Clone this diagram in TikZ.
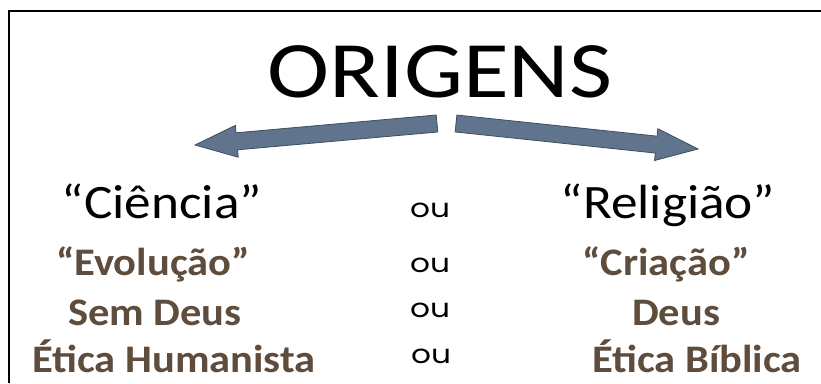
\documentclass[tikz,border=0pt]{standalone}
\usepackage{fontspec}
\setmainfont{Carlito}
\newfontfamily\oufont{Poppins}
\definecolor{brn}{RGB}{94,76,60}
\definecolor{arrfill}{RGB}{96,116,142}
\definecolor{arrline}{RGB}{62,78,96}
\newcommand{\stretchx}[2]{\scalebox{#1}[1]{#2}}
\begin{document}
\begin{tikzpicture}[x=1pt,y=-1pt,
  txt/.style={anchor=base,inner sep=0pt},
  big/.style={txt,font=\fontsize{80}{82}\selectfont},
  mid/.style={txt,font=\fontsize{48}{50}\selectfont},
  sub/.style={txt,font=\fontsize{39}{42}\selectfont\bfseries,text=brn},
  oustyle/.style={txt,font=\oufont\fontsize{26}{28}\selectfont},
  arr/.style={fill=arrfill,draw=arrline,line width=0.8pt,line join=miter}]
\useasboundingbox (0,0) rectangle (821,383);
\fill[white] (0,0) rectangle (821,383);
\draw[line width=2pt] (9,383) -- (9,11) -- (821,11);
% arrows
\draw[arr] (436.2,115.0) -- (236.0,132.8) -- (235.4,125.4) -- (195,145) -- (238.2,157.2) -- (237.6,149.8) -- (437.8,132.0) -- cycle;
\draw[arr] (456.9,115.05) -- (657.1,136.15) -- (657.9,128.7) -- (698,149) -- (654.5,160.5) -- (655.3,153.05) -- (455.1,131.95) -- cycle;
% texts
\node[big] (title) at (440,97) {\stretchx{1.17}{ORIGENS}};
\node[mid] (cien) at (162,218) {\stretchx{1.11}{“Ciência”}};
\node[mid] (reli) at (668,218) {\stretchx{1.11}{“Religião”}};
\node[sub] (evol) at (153,275) {\stretchx{1.09}{“Evolução”}};
\node[sub] (cria) at (666,275) {\stretchx{1.09}{“Criação”}};
\node[sub] (semd) at (155,325) {\stretchx{1.09}{Sem Deus}};
\node[sub] (deus) at (676,325) {\stretchx{1.09}{Deus}};
\node[sub] (etih) at (174,372) {\stretchx{1.09}{Ética Humanista}};
\node[sub] (etib) at (697,372) {\stretchx{1.09}{Ética Bíblica}};
\node[oustyle] (ou1) at (430,217) {\stretchx{1.2}{ou}};
\node[oustyle] (ou2) at (430,272) {\stretchx{1.2}{ou}};
\node[oustyle] (ou3) at (430,317) {\stretchx{1.2}{ou}};
\node[oustyle] (ou4) at (431,363) {\stretchx{1.2}{ou}};
\end{tikzpicture}
\end{document}
